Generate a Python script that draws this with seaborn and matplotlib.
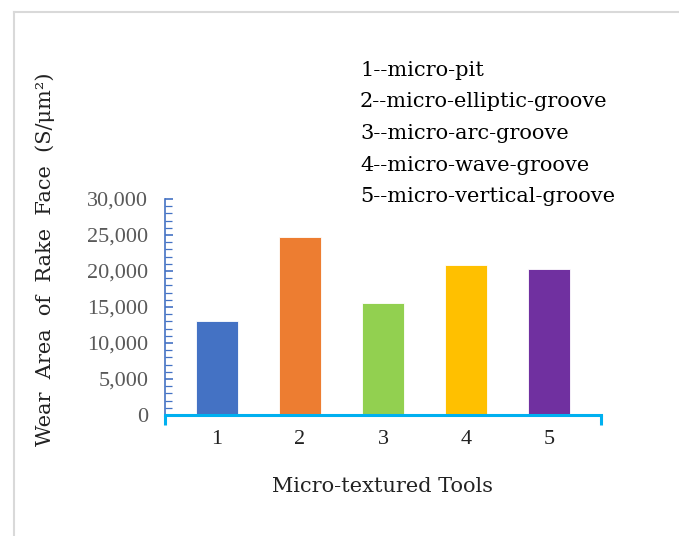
import seaborn as sns
import matplotlib.pyplot as plt
from matplotlib.lines import Line2D
import pandas as pd

tools = ['1', '2', '3', '4', '5']
wear_area = [13000, 24700, 15500, 20850, 20300]
bar_colors = ['#4472C4', '#ED7D31', '#92D050', '#FFC000', '#7030A0']
legend_lines = ['1--micro-pit', '2--micro-elliptic-groove', '3--micro-arc-groove',
                '4--micro-wave-groove', '5--micro-vertical-groove']
y_ticks = [0, 5000, 10000, 15000, 20000, 25000, 30000]

plt.rcParams['font.family'] = ['DejaVu Serif']
num_font = 'Liberation Serif'

df = pd.DataFrame({'tool': tools, 'area': wear_area})

fig = plt.figure(figsize=(6.79, 5.36), dpi=100)
ax = fig.add_axes([165/679, 1-415/536, 436/679, 216/536])
sns.barplot(data=df, x='tool', y='area', hue='tool', palette=bar_colors,
            saturation=1, width=0.5, legend=False, edgecolor='white',
            linewidth=0.6, ax=ax)

ax.set_xlim(-0.625, 4.625)
ax.set_ylim(0, 30000)
ax.set_yticks(y_ticks)
ax.set_yticklabels([f'{v:,}' for v in y_ticks], fontfamily=num_font)
ax.set_yticks(range(0, 30001, 1000), minor=True)
ax.set_xticks(range(len(tools)))
ax.set_xticklabels(tools, fontfamily=num_font)
ax.set_xticks([-0.625, 4.625], minor=True)

for s in ['top', 'right']:
    ax.spines[s].set_visible(False)
ax.spines['left'].set_color('#4472C4')
ax.spines['left'].set_linewidth(1.2)
ax.spines['bottom'].set_color('#00B0F0')
ax.spines['bottom'].set_linewidth(2.2)

ax.tick_params(axis='y', which='both', direction='in', colors='#4472C4',
               labelcolor='#595959', labelsize=16, pad=12)
ax.tick_params(axis='y', which='major', length=6, width=1.2)
ax.tick_params(axis='y', which='minor', length=5, width=0.9)
ax.tick_params(axis='x', which='major', length=0, labelsize=16, pad=11, labelcolor='#222222')
ax.tick_params(axis='x', which='minor', direction='out', length=7, width=2.2,
               color='#00B0F0')

ax.set_xlabel('Micro-textured Tools', fontsize=15, color='#222222', labelpad=20)
ax.set_ylabel('Wear  Area  of  Rake  Face  (S/μm²)', fontsize=15,
              color='#222222', labelpad=0)
ax.yaxis.set_label_coords(-0.252, 0.72)

for i, txt in enumerate(legend_lines):
    fig.text(360/679, 1 - (70 + i*31.7)/536, txt, fontsize=15, color='black',
             ha='left', va='center')

# light frame around the figure (top and left edges)
fig.add_artist(Line2D([14/679, 1], [1-12/536, 1-12/536], color='#d9d9d9', lw=1.5))
fig.add_artist(Line2D([14/679, 14/679], [0, 1-12/536], color='#d9d9d9', lw=1.5))

plt.savefig('out.png', dpi=100)
